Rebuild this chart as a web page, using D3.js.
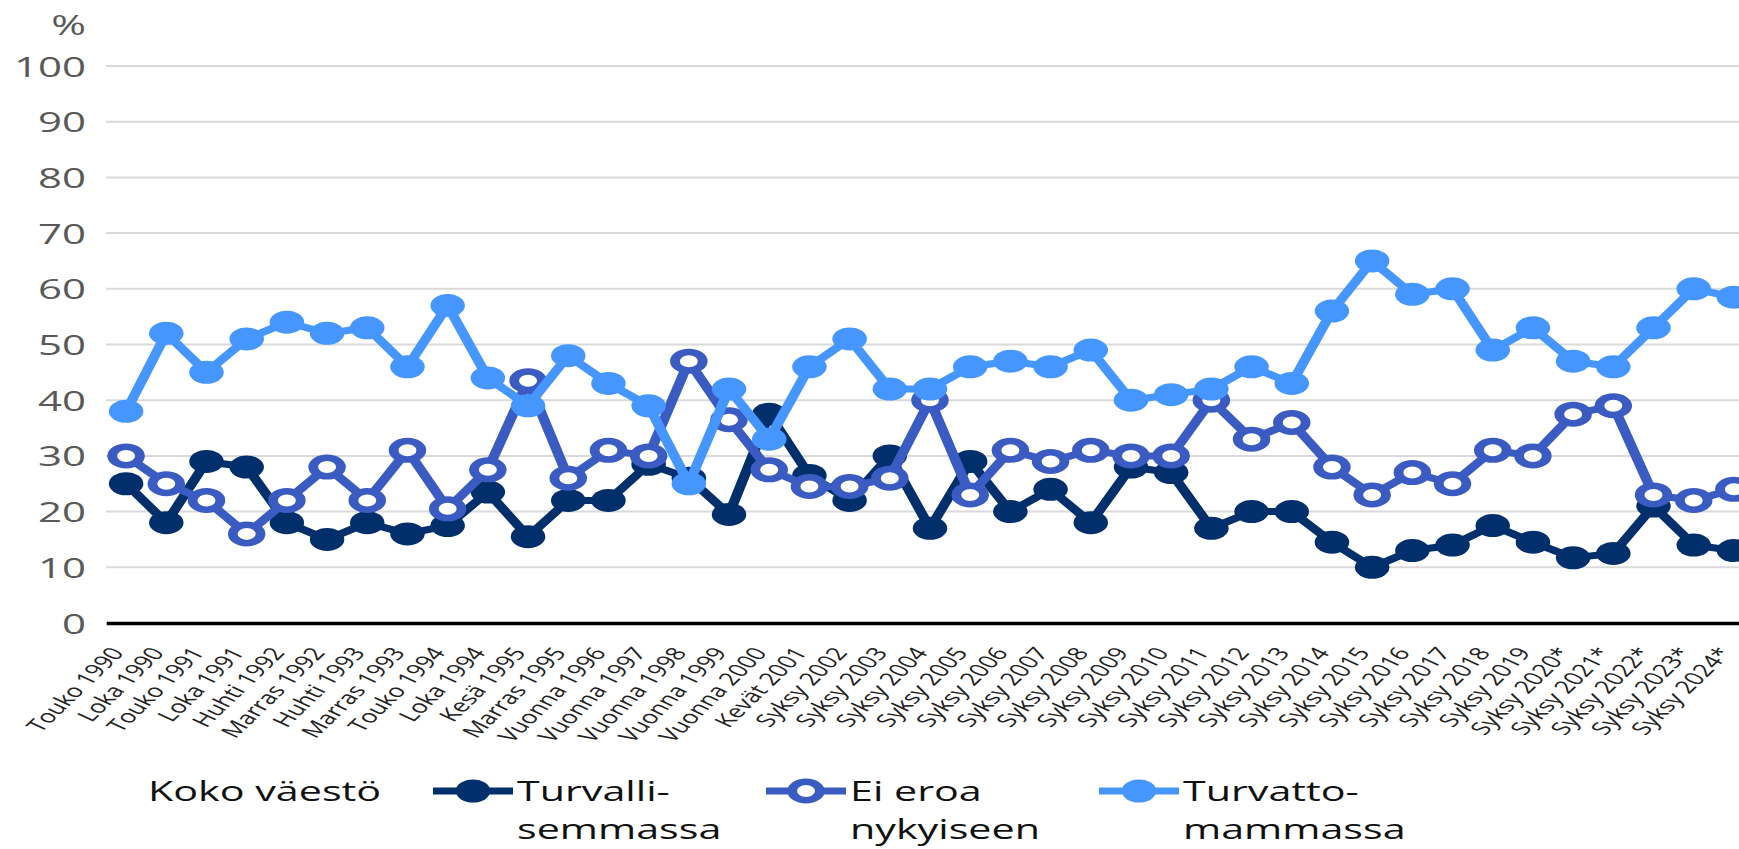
<!DOCTYPE html>
<html><head><meta charset="utf-8">
<script src="https://cdn.jsdelivr.net/npm/d3@7"></script>
<style>body{margin:0;background:#fff;overflow:hidden}svg{display:block}</style>
</head><body>
<svg id="chart" width="1739" height="849"></svg>
<script>
const categories = ["Touko 1990","Loka 1990","Touko 1991","Loka 1991","Huhti 1992","Marras 1992","Huhti 1993","Marras 1993","Touko 1994","Loka 1994","Kesä 1995","Marras 1995","Vuonna 1996","Vuonna 1997","Vuonna 1998","Vuonna 1999","Vuonna 2000","Kevät 2001","Syksy 2002","Syksy 2003","Syksy 2004","Syksy 2005","Syksy 2006","Syksy 2007","Syksy 2008","Syksy 2009","Syksy 2010","Syksy 2011","Syksy 2012","Syksy 2013","Syksy 2014","Syksy 2015","Syksy 2016","Syksy 2017","Syksy 2018","Syksy 2019","Syksy 2020*","Syksy 2021*","Syksy 2022*","Syksy 2023*","Syksy 2024*"];
const turvallisemmassa = [25,18,29,28,18,15,18,16,17.5,23.5,15.5,22,22,28.5,26,19.5,37.5,26.5,22,30,17,29,20,24,18,28,27,17,20,20,14.5,10,13,14,17.5,14.5,11.7,12.5,21,14,13];
const eiEroa = [30,25,22,16,22,28,22,31,20.5,27.5,43.5,26,31,30,47,36.5,27.5,24.5,24.5,26,40,23,31,29,31,30,30,40,33,36,28,23,27,25,31,30,37.5,39,23,22,24];
const turvattomammassa = [38,52,45,51,54,52,53,46,57,44,39,48,43,39,25,42,33,46,51,42,42,46,47,46,49,40,41,42,46,43,56,65,59,60,49,53,47,46,53,60,58.5];
const yTicks = [0,10,20,30,40,50,60,70,80,90,100];
const seriesLabels = [["Turvalli-","semmassa"],["Ei eroa","nykyiseen"],["Turvatto-","mammassa"]];
const seriesColors = ["#002f6c","#3a5cc2","#4596ff"];
const seriesOpen = [false,true,false];
const legendTitle = "Koko väestö";
const unitLabel = "%";

const SX = 1.5;
const svg = d3.select("#chart");
const root = svg.append("g").attr("transform", `scale(${SX},1)`);
const L = v => v / SX; // full px -> local x

const x = d3.scalePoint().domain(categories).range([L(106), L(1754)]).padding(0.5);
const y = d3.scaleLinear().domain([0,100]).range([623,66]);

// grid
root.append("g").selectAll("line").data(yTicks.filter(d=>d>0)).join("line")
  .attr("x1", L(106)).attr("x2", L(1754))
  .attr("y1", d=>y(d)).attr("y2", d=>y(d))
  .attr("stroke","#dadada").attr("stroke-width",2);

// y axis
const gy = root.append("g").attr("transform",`translate(${L(86)},0)`)
  .call(d3.axisLeft(y).tickValues(yTicks).tickSize(0).tickPadding(0));
gy.select(".domain").remove();
gy.selectAll("text").attr("font-family","Open Sans").attr("font-size",28)
  .attr("fill","#595959").attr("dy","0.36em");
root.append("text").attr("x",L(86)).attr("y",35).attr("text-anchor","end")
  .attr("font-family","Open Sans").attr("font-size",28).attr("fill","#595959").text(unitLabel);

// x axis
const gx = root.append("g").attr("transform","translate(0,623)")
  .call(d3.axisBottom(x).tickSize(0).tickSizeOuter(0));
gx.select(".domain").attr("stroke","#000").attr("stroke-width",3.5);
gx.selectAll("text")
  .attr("font-family","Open Sans").attr("font-size",18).attr("fill","#222")
  .attr("x",0).attr("y",0).attr("dy",0)
  .attr("text-anchor","end")
  .attr("transform",`translate(${L(-2)},30) rotate(-55)`);

// series
const data = [turvallisemmassa, eiEroa, turvattomammassa];
const line = d3.line().x((d,i)=>x(categories[i])).y(d=>y(d));
data.forEach((vals,k)=>{
  const g = root.append("g");
  g.append("path").datum(vals).attr("d",line).attr("fill","none")
    .attr("stroke",seriesColors[k]).attr("stroke-width",7).attr("stroke-linejoin","round");
  g.selectAll("circle").data(vals).join("circle")
    .attr("cx",(d,i)=>x(categories[i])).attr("cy",d=>y(d))
    .attr("r", seriesOpen[k] ? 9.25 : 11.5)
    .attr("fill", seriesOpen[k] ? "#fff" : seriesColors[k])
    .attr("stroke", seriesOpen[k] ? seriesColors[k] : "none")
    .attr("stroke-width", seriesOpen[k] ? 6.5 : 0);
});

// legend
const lg = root.append("g").attr("font-family","Open Sans").attr("font-size",27.5).attr("fill","#111");
lg.append("text").attr("x",L(148)).attr("y",801).text(legendTitle);
const legendX = [433, 766, 1099];
seriesLabels.forEach((lab,k)=>{
  const x0 = legendX[k];
  lg.append("line").attr("x1",L(x0)).attr("x2",L(x0+80)).attr("y1",791).attr("y2",791)
    .attr("stroke",seriesColors[k]).attr("stroke-width",7);
  lg.append("circle").attr("cx",L(x0+40)).attr("cy",791)
    .attr("r", seriesOpen[k] ? 9.25 : 11.5)
    .attr("fill", seriesOpen[k] ? "#fff" : seriesColors[k])
    .attr("stroke", seriesOpen[k] ? seriesColors[k] : "none")
    .attr("stroke-width", seriesOpen[k] ? 6.5 : 0);
  lab.forEach((t,j)=>{
    lg.append("text").attr("x",L(x0+84)).attr("y",801+38*j).text(t);
  });
});
</script>
</body></html>
